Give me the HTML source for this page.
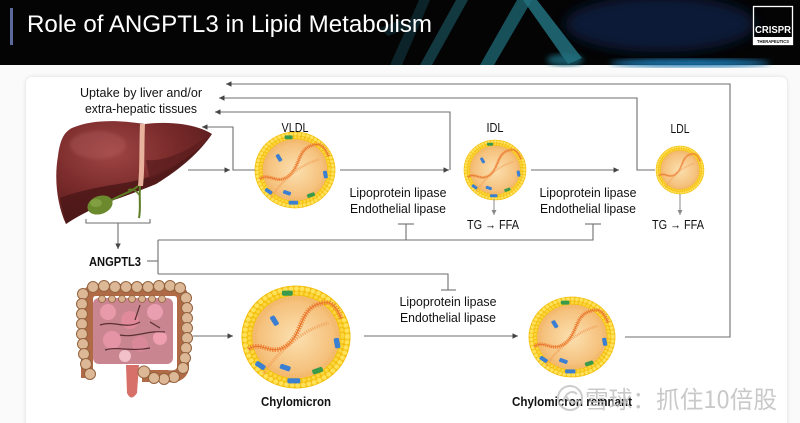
<!DOCTYPE html>
<html><head><meta charset="utf-8">
<style>
html,body{margin:0;padding:0;background:#fafafa;}
svg{display:block;}
text{font-family:"Liberation Sans","Noto Sans CJK SC",sans-serif;}
</style></head>
<body>
<svg width="800" height="423" viewBox="0 0 800 423" xmlns="http://www.w3.org/2000/svg">
<defs>
  <radialGradient id="rg" cx="50%" cy="50%" r="50%">
    <stop offset="0" stop-color="#fbe0b0"/>
    <stop offset="0.6" stop-color="#f6c583"/>
    <stop offset="1" stop-color="#f2b060"/>
  </radialGradient>
  <radialGradient id="lv" cx="35%" cy="30%" r="75%">
    <stop offset="0" stop-color="#a04646"/>
    <stop offset="0.5" stop-color="#7c2c2c"/>
    <stop offset="1" stop-color="#5a1c1c"/>
  </radialGradient>
  <filter id="blur6"><feGaussianBlur stdDeviation="6"/></filter>
  <filter id="blur3"><feGaussianBlur stdDeviation="3"/></filter>
  <filter id="blur2"><feGaussianBlur stdDeviation="1.5"/></filter>
  <filter id="sh" x="-5%" y="-5%" width="110%" height="110%"><feGaussianBlur stdDeviation="2"/></filter>
  <marker id="ah" viewBox="0 0 6 6" refX="6" refY="3" markerWidth="5.5" markerHeight="5.5" orient="auto" markerUnits="userSpaceOnUse">
    <path d="M0,0 L6,3 L0,6 z" fill="#444"/>
  </marker>
  <marker id="ah2" viewBox="0 0 6 6" refX="6" refY="3" markerWidth="5" markerHeight="5" orient="auto" markerUnits="userSpaceOnUse">
    <path d="M0,0 L6,3 L0,6 z" fill="#888"/>
  </marker>
  <g id="pc">
    <circle r="50" fill="url(#rg)"/>
    <circle r="45.5" fill="none" stroke="#f4c010" stroke-width="10"/>
    <circle r="47.5" fill="none" stroke="#ffe15a" stroke-width="4.5" stroke-dasharray="0.01 5.2" stroke-linecap="round"/>
    <circle r="43" fill="none" stroke="#fbd640" stroke-width="3.5" stroke-dasharray="0.01 4.6" stroke-linecap="round"/>
    <circle r="38" fill="none" stroke="#efae55" stroke-width="4" stroke-dasharray="0.8 1.8" opacity="0.55"/>
    <path d="M-44,12 C-32,2 -22,22 -6,6 C6,-6 4,-26 20,-32 C30,-36 36,-34 42,-18" fill="none" stroke="#f0873a" stroke-width="4.5" stroke-dasharray="1.3 1"/>
    <path d="M-44,12 C-32,2 -22,22 -6,6 C6,-6 4,-26 20,-32 C30,-36 36,-34 42,-18" fill="none" stroke="#e6702a" stroke-width="0.9"/>
    <path d="M-30,36 C-20,20 -10,10 0,2 C10,-6 18,-10 30,-14" fill="none" stroke="#f3a05a" stroke-width="3" stroke-dasharray="1.2 1" opacity="0.8"/>
  </g>
  <g id="pp">
    <rect x="-5" y="-2.5" width="10" height="5" rx="1.5" fill="#3b7fd2" transform="translate(-20,-16) rotate(60)"/>
    <rect x="-5" y="-2.5" width="10" height="5" rx="1.5" fill="#3b7fd2" transform="translate(38,6) rotate(80)"/>
    <rect x="-5" y="-2.5" width="10" height="5" rx="1.5" fill="#3b7fd2" transform="translate(-33,28) rotate(35)"/>
    <rect x="-5" y="-2.5" width="10" height="5" rx="1.5" fill="#3b7fd2" transform="translate(-10,30) rotate(20)"/>
    <rect x="-6" y="-2.5" width="12" height="5" rx="1.5" fill="#3b7fd2" transform="translate(-2,43)"/>
    <rect x="-5" y="-2.5" width="10" height="5" rx="1.5" fill="#3a9a4c" transform="translate(-8,-43)"/>
    <rect x="-5" y="-2.5" width="10" height="5" rx="1.5" fill="#3a9a4c" transform="translate(20,33) rotate(-20)"/>
  </g>
</defs>

<!-- Header -->
<rect x="0" y="0" width="800" height="65" fill="#040404"/>
<g>
  <ellipse cx="660" cy="24" rx="95" ry="28" fill="#0a1f3c" filter="url(#blur6)" opacity="0.9"/>
  <ellipse cx="690" cy="63" rx="80" ry="4" fill="#1f78b0" filter="url(#blur3)"/>
  <ellipse cx="565" cy="60" rx="18" ry="6" fill="#1b6c80" filter="url(#blur3)" opacity="0.8"/>
  <polygon points="390,65 402,65 430,0 419,0" fill="#0e2c33" opacity="0.8"/>
  <polygon points="420,65 432,65 468,0 456,0" fill="#164650" opacity="0.8"/>
  <polygon points="480,65 494,65 532,0 517,0" fill="#1c5e6a" opacity="0.85"/>
  <polygon points="523,0 537,0 582,58 568,64" fill="#22707e" opacity="0.85"/>
  <polygon points="380,28 400,20 408,28 388,36" fill="#0f323b" opacity="0.6"/>
</g>
<rect x="10" y="8" width="3" height="37" fill="#5b6a9a"/>
<text x="27" y="32" font-size="24" fill="#ffffff" textLength="405" lengthAdjust="spacingAndGlyphs">Role of ANGPTL3 in Lipid Metabolism</text>
<!-- logo -->
<rect x="753.5" y="6.5" width="39" height="38" fill="none" stroke="#ffffff" stroke-width="1.3"/>
<text x="773" y="33" font-size="10" font-weight="bold" fill="#ffffff" text-anchor="middle" textLength="36" lengthAdjust="spacingAndGlyphs">CRISPR</text>
<rect x="754" y="37" width="38" height="7.5" fill="#ffffff"/>
<text x="773" y="43" font-size="4.5" font-weight="bold" fill="#111" text-anchor="middle" textLength="32" lengthAdjust="spacingAndGlyphs">THERAPEUTICS</text>

<!-- Card -->
<rect x="26" y="77" width="761" height="360" rx="6" fill="#000" opacity="0.12" filter="url(#sh)"/>
<rect x="26" y="77" width="761" height="360" rx="6" fill="#ffffff"/>

<!-- Liver -->
<g>
  <path d="M72,128 C95,118 125,121 145,124 C170,121 196,124 212,134 C200,150 182,168 156,184 C136,192 120,198 105,203 C90,210 76,217 66,224 C57,205 54,178 58,156 C60,140 64,132 72,128 Z" fill="url(#lv)"/>
  <path d="M60,198 C80,190 105,186 130,182 C160,176 190,160 212,134 C200,152 182,168 156,184 C136,192 120,198 105,203 C90,210 76,217 66,224 Z" fill="#4c1717" opacity="0.85"/>
  <path d="M146,160 C165,162 190,150 208,136 C195,152 176,168 150,180 Z" fill="#5c1e1e" opacity="0.8"/>
  <path d="M140,124 L145,124 C144,145 145,168 143,186 L138,186 C140,168 139,145 140,124 Z" fill="#e8b29c"/>
  <ellipse cx="98" cy="145" rx="28" ry="14" fill="#b46060" opacity="0.35" filter="url(#blur2)"/>
  <path d="M112,200 C122,194 132,192 138,186" fill="none" stroke="#5d7d25" stroke-width="2"/>
  <path d="M140,186 C139,198 141,208 139,218" fill="none" stroke="#5d7d25" stroke-width="2"/>
  <path d="M128,190 C132,188 136,190 140,196" fill="none" stroke="#5d7d25" stroke-width="1.5"/>
  <ellipse cx="100" cy="205" rx="13" ry="9" transform="rotate(-20 100 205)" fill="#6b8a2e"/>
  <ellipse cx="96" cy="203" rx="6" ry="4" fill="#8aa84a" opacity="0.7"/>
</g>

<!-- Intestine -->
<g>
  <rect x="93" y="298" width="80" height="66" rx="6" fill="#c98590"/>
  <circle cx="108" cy="312" r="8" fill="#e99aaa"/>
  <circle cx="130" cy="320" r="9" fill="#e08a9c"/>
  <circle cx="155" cy="312" r="8" fill="#ea9fb0"/>
  <circle cx="112" cy="340" r="9" fill="#e594a6"/>
  <circle cx="140" cy="344" r="8" fill="#d9889a"/>
  <circle cx="160" cy="338" r="7" fill="#ef9fb0"/>
  <circle cx="125" cy="356" r="6" fill="#f2c0c8"/>
  <path d="M100,325 C115,320 125,330 140,322 M120,335 C135,338 148,330 165,332 M105,350 C118,346 130,352 150,348 M140,305 L135,320 M150,322 L160,328" fill="none" stroke="#5a3034" stroke-width="1.2"/>
  <path d="M87,378 V300 Q87,290 97,290 H173 Q183,290 183,300 V368 Q181,378 166,376 H142" fill="none" stroke="#b06a46" stroke-width="12"/>
  <path d="M126,365 L139,365 L137,393 Q131,402 127,393 Z" fill="#d8706a"/>
  <g fill="#dcb896" stroke="#94623e" stroke-width="1">
    <circle cx="83" cy="294" r="5.5"/><circle cx="82" cy="304" r="5.5"/><circle cx="82" cy="314" r="5.5"/><circle cx="82" cy="324" r="5.5"/><circle cx="82" cy="334" r="5.5"/><circle cx="83" cy="344" r="5.5"/><circle cx="84" cy="354" r="5.5"/><circle cx="86" cy="364" r="5.5"/><circle cx="90" cy="374" r="5.5"/>
    <circle cx="93" cy="287" r="5.5"/><circle cx="104" cy="286" r="5.5"/><circle cx="115" cy="287" r="5.5"/><circle cx="126" cy="287" r="5.5"/><circle cx="137" cy="287" r="5.5"/><circle cx="148" cy="287" r="5.5"/><circle cx="159" cy="286" r="5.5"/><circle cx="170" cy="286" r="5.5"/><circle cx="180" cy="288" r="5.5"/>
    <circle cx="186" cy="298" r="5.5"/><circle cx="187" cy="308" r="5.5"/><circle cx="187" cy="318" r="5.5"/><circle cx="187" cy="328" r="5.5"/><circle cx="187" cy="338" r="5.5"/><circle cx="186" cy="348" r="5.5"/><circle cx="185" cy="358" r="5.5"/><circle cx="183" cy="368" r="5.5"/>
    <circle cx="174" cy="377" r="5.5"/><circle cx="164" cy="379" r="5.5"/><circle cx="154" cy="378" r="5.5"/><circle cx="144" cy="372" r="6"/>
  </g>
  <g fill="#d7b08e" stroke="#94623e" stroke-width="0.8">
    <circle cx="102" cy="299" r="3.5"/><circle cx="112" cy="299" r="3.5"/><circle cx="122" cy="299" r="3.5"/><circle cx="132" cy="299" r="3.5"/><circle cx="142" cy="299" r="3.5"/><circle cx="152" cy="299" r="3.5"/><circle cx="162" cy="299" r="3.5"/>
  </g>
</g>

<!-- Particles -->
<use href="#pc" transform="translate(295,170) scale(0.8,0.76)"/>
<use href="#pp" transform="translate(295,170) scale(0.8,0.76)"/>
<use href="#pc" transform="translate(495,170) scale(0.62,0.6)"/>
<use href="#pp" transform="translate(495,170) scale(0.62,0.6)"/>
<use href="#pc" transform="translate(680,170) scale(0.48,0.48)"/>
<use href="#pc" transform="translate(296,337) scale(1.08,1.02)"/>
<use href="#pp" transform="translate(296,337) scale(1.08,1.02)"/>
<use href="#pc" transform="translate(572,337) scale(0.86,0.8)"/>
<use href="#pp" transform="translate(572,337) scale(0.86,0.8)"/>

<!-- Connectors -->
<g fill="none" stroke="#6e6e6e" stroke-width="1.1">
  <path d="M625,337 H730 V84 H226" marker-end="url(#ah)"/>
  <path d="M655,170 H637 V98 H219" marker-end="url(#ah)"/>
  <path d="M450,170 V112 H215" marker-end="url(#ah)"/>
  <path d="M255,170 H233 V127 H202" marker-end="url(#ah)"/>
  <path d="M188,170 H230" marker-end="url(#ah)"/>
  <path d="M340,170 H449" marker-end="url(#ah)"/>
  <path d="M531,170 H619" marker-end="url(#ah)"/>
  <path d="M86,219 V223 H150 V219"/>
  <path d="M118,223 V249" marker-end="url(#ah)"/>
  <path d="M147,261 H158"/>
  <path d="M158,240 V274"/>
  <path d="M158,240 H593 V224"/>
  <path d="M585,224 H601"/>
  <path d="M406,240 V224"/>
  <path d="M398,224 H414"/>
  <path d="M158,274 H448 V290"/>
  <path d="M441,290 H456"/>
  <path d="M193,336 H233" marker-end="url(#ah)"/>
  <path d="M364,336 H518" marker-end="url(#ah)"/>
</g>
<g fill="none" stroke="#8a8a8a" stroke-width="1">
  <path d="M494,199 V215" marker-end="url(#ah2)"/>
  <path d="M680,194 V215" marker-end="url(#ah2)"/>
</g>

<!-- Labels -->
<g font-size="12.5" fill="#111">
  <text x="141" y="97" text-anchor="middle" textLength="122" lengthAdjust="spacingAndGlyphs">Uptake by liver and/or</text>
  <text x="141" y="113" text-anchor="middle" textLength="112" lengthAdjust="spacingAndGlyphs">extra-hepatic tissues</text>
  <text x="295" y="132" text-anchor="middle" textLength="27" lengthAdjust="spacingAndGlyphs">VLDL</text>
  <text x="495" y="132" text-anchor="middle" textLength="17" lengthAdjust="spacingAndGlyphs">IDL</text>
  <text x="680" y="133" text-anchor="middle" textLength="19" lengthAdjust="spacingAndGlyphs">LDL</text>
  <text x="398" y="197" text-anchor="middle" textLength="97" lengthAdjust="spacingAndGlyphs">Lipoprotein lipase</text>
  <text x="398" y="213" text-anchor="middle" textLength="96" lengthAdjust="spacingAndGlyphs">Endothelial lipase</text>
  <text x="588" y="197" text-anchor="middle" textLength="97" lengthAdjust="spacingAndGlyphs">Lipoprotein lipase</text>
  <text x="588" y="213" text-anchor="middle" textLength="96" lengthAdjust="spacingAndGlyphs">Endothelial lipase</text>
  <text x="493" y="229" text-anchor="middle" textLength="52" lengthAdjust="spacingAndGlyphs">TG → FFA</text>
  <text x="678" y="229" text-anchor="middle" textLength="52" lengthAdjust="spacingAndGlyphs">TG → FFA</text>
  <text x="448" y="306" text-anchor="middle" textLength="97" lengthAdjust="spacingAndGlyphs">Lipoprotein lipase</text>
  <text x="448" y="322" text-anchor="middle" textLength="96" lengthAdjust="spacingAndGlyphs">Endothelial lipase</text>
  <text x="89" y="266" font-weight="bold" textLength="52" lengthAdjust="spacingAndGlyphs">ANGPTL3</text>
  <text x="296" y="406" font-weight="bold" text-anchor="middle" textLength="70" lengthAdjust="spacingAndGlyphs">Chylomicron</text>
  <text x="572" y="406" font-weight="bold" text-anchor="middle" textLength="120" lengthAdjust="spacingAndGlyphs">Chylomicron remnant</text>
</g>

<!-- Watermark -->
<g opacity="0.85">
  <circle cx="570" cy="398" r="12" fill="none" stroke="#c4c4c4" stroke-width="2"/>
  <path d="M563,402 C566,392 572,390 577,394 M566,396 C570,404 575,404 578,400" fill="none" stroke="#c4c4c4" stroke-width="2"/>
  <text x="585" y="408" font-size="24" fill="#c0c0c0" textLength="192" lengthAdjust="spacingAndGlyphs" style="font-family:'Noto Sans CJK SC','WenQuanYi Zen Hei',sans-serif">雪球：抓住10倍股</text>
</g>
</svg>
</body></html>
